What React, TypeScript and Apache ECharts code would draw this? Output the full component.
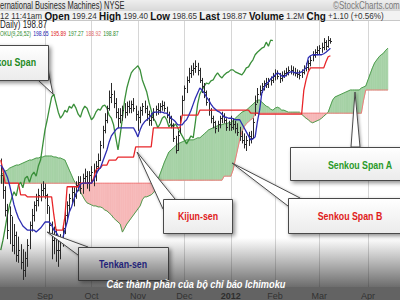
import React, { useEffect, useRef } from "react";
import * as echarts from "echarts";

// ---------- calendar (trading days shown on the category axis) ----------
const startDate = "2011-08-04";
const endDate = "2012-04-23";
const holidays = ["2011-09-05", "2011-11-24", "2011-12-26", "2012-01-02", "2012-01-16", "2012-02-20", "2012-04-06"];
const monthNames = ["Jan", "Feb", "Mar", "Apr", "May", "Jun", "Jul", "Aug", "Sep", "Oct", "Nov", "Dec"];

function tradingDays(): string[] {
  const out: string[] = [];
  const d = new Date(startDate + "T00:00:00Z");
  const end = new Date(endDate + "T00:00:00Z");
  while (d <= end) {
    const wd = d.getUTCDay();
    const s = d.toISOString().slice(0, 10);
    if (wd !== 0 && wd !== 6 && holidays.indexOf(s) < 0) out.push(s);
    d.setUTCDate(d.getUTCDate() + 1);
  }
  return out;
}

// ---------- price bars (IBM daily) ----------
const high = [
  175.5, 172.8, 170.0, 166.5, 166.0, 164.0, 162.5, 161.0, 160.0, 158.5,
  157.5, 157.0, 159.5, 163.0, 165.5, 167.0, 168.5, 169.5, 170.5, 171.0,
  170.5, 168.5, 166.0, 163.0, 162.0, 161.5, 160.0, 160.5, 162.5, 165.0,
  167.0, 168.5, 170.0, 169.8, 171.0, 172.0, 172.0, 172.5, 173.5, 173.0,
  173.0, 174.0, 174.5, 175.0, 176.5, 179.0, 182.0, 184.5, 186.0, 189.0,
  190.5, 189.0, 187.5, 185.5, 185.5, 186.0, 186.5, 186.8, 187.0, 187.0,
  187.5, 186.0, 185.0, 185.8, 186.5, 187.0, 186.0, 185.0, 184.5, 185.5,
  186.0, 186.5, 186.5, 187.0, 186.8, 185.8, 184.8, 184.0, 182.5, 180.0,
  181.0, 184.0, 188.0, 190.0, 191.8, 193.5, 194.0, 194.5, 195.0, 194.5,
  193.5, 191.5, 190.5, 189.0, 187.5, 185.5, 184.0, 183.0, 183.0, 184.0,
  184.8, 184.5, 183.5, 183.0, 184.0, 183.5, 183.0, 182.5, 181.8, 181.0,
  180.5, 180.0, 180.8, 181.0, 183.5, 188.0, 189.5, 190.0, 190.5, 191.0,
  191.5, 191.5, 191.8, 192.5, 193.2, 193.0, 192.5, 192.8, 193.0, 193.5,
  193.8, 194.0, 193.8, 193.5, 193.2, 193.0, 193.2, 194.0, 194.5, 195.0,
  195.8, 196.8, 197.2, 197.8, 198.0, 198.5, 199.4, 199.0, 199.8, 199.4,
];
const low = [
  170.5, 167.5, 164.0, 159.5, 158.5, 157.0, 156.5, 155.0, 154.8, 153.5,
  151.4, 152.0, 154.0, 157.5, 161.0, 163.0, 165.0, 166.0, 167.0, 168.0,
  167.5, 164.5, 160.5, 155.5, 156.5, 155.0, 154.0, 155.5, 158.0, 160.5,
  163.0, 165.0, 166.5, 166.0, 167.5, 169.0, 168.5, 168.5, 170.5, 169.5,
  169.0, 170.5, 170.0, 171.0, 173.0, 175.0, 177.5, 180.5, 182.5, 185.0,
  186.5, 185.5, 183.5, 181.5, 182.5, 183.0, 183.5, 184.0, 184.5, 184.5,
  184.8, 183.0, 181.0, 182.5, 184.0, 184.5, 183.0, 182.0, 182.0, 183.0,
  184.0, 184.2, 184.5, 185.0, 184.8, 183.5, 182.5, 181.5, 178.8, 176.5,
  177.0, 180.5, 184.0, 187.0, 188.5, 190.5, 191.5, 192.0, 192.5, 192.0,
  190.5, 188.5, 187.5, 186.0, 184.0, 182.5, 181.5, 180.5, 180.8, 181.5,
  182.5, 182.5, 181.0, 181.0, 181.0, 181.2, 180.5, 180.0, 179.0, 178.5,
  177.5, 177.0, 178.0, 178.5, 179.5, 184.0, 186.5, 188.0, 188.5, 189.0,
  189.5, 189.5, 190.0, 190.5, 191.0, 191.2, 190.5, 190.8, 191.5, 191.8,
  192.0, 192.2, 192.0, 191.8, 191.5, 191.2, 191.5, 192.2, 192.8, 193.0,
  193.8, 194.8, 195.5, 196.0, 196.2, 196.5, 197.0, 197.0, 197.5, 198.3,
];
const close = [
  172.2, 169.3, 165.3, 161.3, 164.3, 158.3, 160.3, 156.4, 157.3, 155.0,
  153.4, 155.8, 158.3, 162.3, 164.3, 166.3, 167.3, 168.3, 169.3, 169.7,
  168.3, 166.3, 162.3, 159.3, 160.3, 157.3, 157.3, 159.3, 161.7, 164.3,
  166.3, 167.7, 168.9, 168.1, 170.2, 170.8, 169.7, 171.6, 172.0, 170.8,
  172.2, 172.8, 172.0, 174.0, 175.2, 178.2, 181.2, 183.2, 185.5, 187.7,
  188.3, 186.5, 184.7, 183.5, 184.1, 185.1, 184.7, 185.9, 185.5, 186.3,
  185.5, 184.3, 183.7, 185.1, 185.9, 185.5, 184.3, 183.2, 183.7, 184.7,
  185.3, 185.1, 185.9, 186.1, 185.5, 184.1, 183.5, 182.2, 179.6, 177.2,
  180.2, 183.5, 187.1, 189.5, 191.1, 192.5, 193.1, 193.5, 193.9, 193.1,
  191.1, 189.9, 188.7, 186.7, 185.1, 183.5, 182.8, 181.6, 182.4, 183.5,
  183.9, 183.2, 181.8, 182.4, 181.8, 182.4, 181.6, 180.8, 180.0, 179.2,
  178.4, 179.2, 180.0, 179.6, 182.8, 186.3, 188.3, 189.1, 189.9, 190.5,
  190.3, 190.9, 191.1, 191.9, 192.5, 191.9, 191.5, 192.1, 192.5, 192.7,
  193.1, 193.1, 192.7, 192.5, 192.3, 192.1, 192.7, 193.5, 193.7, 194.5,
  195.1, 196.1, 196.6, 197.0, 197.4, 197.6, 198.6, 197.8, 199.0, 198.9,
];

// ---------- Ichimoku lines ----------
const tenkan = [
  174.2, 173.6, 172.8, 171.8, 170.2, 168.3, 166.3, 164.9, 163.7, 162.9,
  162.1, 161.7, 161.3, 161.3, 161.3, 161.3, 160.9, 161.3, 161.7, 162.3,
  162.9, 162.9, 162.9, 162.3, 161.3, 160.9, 160.1, 159.7, 159.7, 161.3,
  162.9, 164.9, 165.9, 167.3, 168.5, 169.3, 170.4, 170.6, 170.6, 170.6,
  170.6, 170.6, 171.2, 172.2, 173.2, 173.6, 174.8, 176.0, 177.2, 178.8,
  180.0, 180.6, 181.2, 181.6, 181.6, 181.6, 181.6, 181.6, 181.6, 181.6,
  181.6, 180.8, 179.8, 181.2, 182.2, 182.8, 183.2, 183.5, 184.1, 184.7,
  184.7, 184.7, 184.7, 184.7, 184.5, 184.5, 184.1, 183.5, 183.2, 182.8,
  182.2, 182.2, 182.2, 182.8, 183.2, 184.1, 185.1, 186.3, 187.5, 188.5,
  189.5, 189.1, 188.5, 187.7, 187.1, 186.3, 185.7, 185.3, 184.9, 184.7,
  184.3, 183.7, 183.7, 183.5, 183.5, 183.4, 183.2, 183.2, 183.2, 182.4,
  181.6, 180.8, 180.0, 179.2, 179.4, 179.8, 182.8, 185.1, 188.5, 189.5,
  190.3, 190.7, 191.3, 191.7, 192.1, 192.5, 192.3, 191.9, 191.7, 192.1,
  192.5, 192.7, 192.7, 192.5, 192.5, 192.5, 192.7, 193.1, 193.5, 195.5,
  195.9, 196.1, 196.1, 196.1, 196.1, 196.1, 196.3, 196.6, 197.0, 197.4,
];
const kijun = [
  175.2, 173.2, 170.6, 170.6, 170.6, 170.6, 170.6, 170.6, 170.6, 168.3,
  168.3, 168.3, 167.9, 167.9, 167.9, 167.9, 167.9, 167.9, 167.9, 167.9,
  167.9, 167.9, 167.9, 167.9, 164.3, 161.3, 161.3, 161.3, 161.3, 163.9,
  169.9, 169.9, 169.9, 169.9, 169.9, 169.9, 170.6, 170.6, 170.6, 170.6,
  170.6, 170.6, 171.6, 173.2, 173.6, 173.6, 174.2, 174.2, 174.2, 175.2,
  175.2, 175.2, 175.2, 175.8, 175.8, 175.8, 175.8, 175.8, 175.8, 175.8,
  175.8, 177.8, 177.8, 177.8, 177.8, 177.8, 177.8, 177.8, 177.8, 181.6,
  181.6, 181.6, 181.6, 181.6, 181.6, 181.6, 181.6, 181.6, 181.6, 181.6,
  181.6, 181.6, 184.1, 184.1, 184.1, 184.1, 184.1, 184.1, 184.1, 184.1,
  185.1, 185.1, 185.1, 185.1, 185.1, 185.1, 185.1, 185.1, 185.1, 185.1,
  185.1, 185.1, 185.1, 185.1, 185.1, 185.1, 185.1, 185.1, 185.1, 185.1,
  185.1, 185.1, 185.1, 184.5, 184.5, 184.5, 184.5, 184.3, 184.3, 184.3,
  184.3, 184.3, 184.3, 184.3, 184.3, 184.3, 184.3, 184.3, 184.3, 184.3,
  184.3, 184.3, 184.3, 184.3, 184.3, 184.3, 184.3, 189.1, 191.1, 192.7,
  193.5, 193.5, 193.5, 193.5, 193.5, 193.5, 193.5, 194.7, 195.7, 195.9,
];
const spanA = [
  172.2, 172.6, 173.0, 173.2, 173.6, 173.8, 174.0, 174.2, 174.2, 174.4,
  174.6, 174.8, 175.0, 175.2, 175.2, 175.4, 175.6, 175.6, 175.8, 175.8,
  176.0, 176.0, 176.0, 176.0, 175.8, 175.8, 175.6, 175.6, 175.4, 175.2,
  174.2, 173.2, 172.2, 171.2, 170.4, 169.7, 168.9, 168.1, 167.3, 166.7,
  166.5, 166.3, 166.1, 166.1, 165.9, 165.9, 165.7, 165.3, 165.1, 164.7,
  164.3, 163.7, 163.3, 162.9, 162.5, 160.9, 161.7, 162.5, 163.1, 163.7,
  164.3, 164.9, 165.5, 166.1, 167.3, 167.9, 167.9, 168.1, 168.3, 168.7,
  169.3, 171.2, 172.4, 173.6, 174.8, 175.8, 176.8, 177.2, 177.6, 178.0,
  178.4, 178.6, 178.8, 179.0, 179.2, 179.2, 179.2, 179.2, 179.4, 179.6,
  179.6, 180.0, 180.4, 180.8, 181.2, 181.4, 181.6, 181.8, 182.0, 182.2,
  182.2, 182.4, 182.4, 182.6, 182.6, 183.0, 183.5, 183.9, 184.3, 184.7,
  184.9, 185.1, 185.5, 185.9, 186.3, 186.7, 187.1, 187.1, 186.7, 186.3,
  185.9, 185.7, 185.3, 185.1, 185.5, 185.7, 185.5, 185.1, 185.1, 184.9,
  184.7, 184.7, 184.7, 184.7, 184.7, 184.7, 184.3, 183.9, 183.5, 183.2,
  182.8, 182.6, 182.8, 183.0, 183.2, 183.5, 183.9, 184.3, 184.7, 185.9,
  187.1, 187.7, 187.9, 188.1, 188.3, 188.5, 188.7, 188.9, 189.1, 189.1,
  189.1, 189.1, 189.1, 189.5, 189.7, 189.9, 191.1, 192.3, 193.5, 194.5,
  195.1, 195.7, 196.1, 196.4, 197.0, 197.4,
];
const spanB = [
  170.6, 170.6, 170.6, 170.6, 170.6, 170.6, 170.6, 170.6, 170.6, 170.6,
  170.6, 170.6, 170.6, 170.6, 170.6, 170.6, 170.6, 170.6, 170.6, 170.6,
  170.6, 170.6, 170.6, 170.6, 170.6, 170.6, 170.6, 170.6, 170.6, 170.6,
  170.6, 170.6, 170.6, 170.6, 170.6, 170.6, 170.6, 170.6, 170.6, 170.6,
  170.6, 170.6, 170.6, 170.6, 170.6, 170.6, 170.6, 170.6, 170.6, 170.6,
  170.6, 170.6, 170.6, 170.6, 170.6, 170.6, 170.6, 170.6, 170.6, 170.6,
  170.6, 170.6, 170.6, 170.6, 170.6, 170.6, 170.6, 170.6, 170.6, 170.6,
  170.6, 171.2, 171.2, 171.2, 171.2, 171.2, 171.2, 171.2, 171.2, 171.2,
  171.2, 171.2, 171.2, 171.2, 171.2, 171.2, 171.2, 171.2, 171.2, 171.2,
  171.2, 171.2, 171.2, 171.2, 171.2, 171.2, 171.2, 171.2, 171.2, 171.2,
  171.2, 172.0, 172.0, 172.0, 172.0, 173.2, 175.2, 177.2, 179.2, 180.8,
  181.8, 182.4, 182.8, 183.2, 183.5, 184.5, 184.5, 184.5, 184.5, 184.5,
  184.5, 184.5, 184.5, 184.5, 184.5, 184.5, 184.5, 184.5, 184.5, 184.5,
  184.5, 184.5, 184.5, 184.5, 184.5, 184.5, 184.5, 184.5, 184.5, 184.5,
  184.5, 184.5, 184.5, 184.5, 184.5, 184.5, 184.5, 184.5, 184.5, 184.5,
  184.5, 184.5, 184.5, 184.5, 184.5, 184.5, 184.5, 184.5, 184.5, 184.5,
  184.5, 184.5, 184.5, 184.5, 187.1, 189.1, 189.1, 189.1, 189.1, 189.1,
  189.1, 189.1, 189.1, 189.1, 189.1, 189.1,
];
const chikouShift = 26;

// ---------- texts ----------
const headerLine1 = "ernational Business Machines) NYSE";
const headerSite = "©StockCharts.com";
const headerLine2 =
  "{r|12 11:41am }{b|Open}{r| 199.24 }{b|High}{r| 199.40 }{b|Low}{r| 198.65 }{b|Last}{r| 198.87 }{b|Volume}{r| 1.2M }{b|Chg}{r| +1.10 (+0.56%)}";
const headerLine3 = "Daily) 198.87";
const headerLine4 = "{g|OKU(9,26,52)} {b|198.65} {r|195.89} {g|197.27} {p|188.92} {g|198.87}";
const caption = "Các thành phần của bộ chỉ báo Ichimoku";

const GREEN_FILL = "#a6d2a6";
const PINK_FILL = "#f6b8b8";

type Callout = {
  label: string;
  color: string;
  box: number[];
  tail: number[][];
  tx: number;
  ty: number;
  align: string;
};
const callouts: Callout[] = [
  { label: "Chikou Span", color: "#1f8a1f", box: [-70, 45, 118, 35], tail: [[38, 80], [53, 94], [48, 70]], tx: 36, ty: 62, align: "right" },
  { label: "Kijun-sen", color: "#e01b1b", box: [163, 199, 69, 34], tail: [[163, 209], [137, 152], [175, 199]], tx: 198, ty: 216, align: "center" },
  { label: "Tenkan-sen", color: "#1c1ca8", box: [78, 247, 90, 33], tail: [[78, 255], [47, 232], [88, 247]], tx: 123, ty: 264, align: "center" },
  { label: "Senkou Span A", color: "#2a9a2a", box: [290, 147, 130, 33], tail: [[351, 147], [355, 92], [360, 147]], tx: 360, ty: 165, align: "center" },
  { label: "Senkou Span B", color: "#e01b1b", box: [288, 198, 130, 35], tail: [[288, 206], [232, 163], [300, 198]], tx: 350, ty: 216, align: "center" },
];

function buildOption() {
  const dates = tradingDays();
  const monthStart: boolean[] = dates.map((d, i) => i > 0 && d.slice(5, 7) !== dates[i - 1].slice(5, 7));
  const showIdx = (idx: number) => !!monthStart[idx];

  const barData = close.map((c, i) => [i, high[i], low[i], c]);
  const cloudData = spanA.map((a, i) => [i, a, spanB[i]]);
  const chikou = close.slice(chikouShift);

  const font = "Liberation Sans, Arial, sans-serif";

  const graphic: any[] = [];
  // callouts
  callouts.forEach((c) => {
    graphic.push({
      type: "polygon",
      z: 50,
      silent: true,
      shape: { points: c.tail },
      style: { fill: "#ffffff", stroke: "#4a4a4a", lineWidth: 1, shadowBlur: 3, shadowColor: "rgba(0,0,0,0.35)", shadowOffsetX: 1, shadowOffsetY: 1 },
    });
    graphic.push({
      type: "rect",
      z: 51,
      silent: true,
      shape: { x: c.box[0] + 0.5, y: c.box[1] + 0.5, width: c.box[2], height: c.box[3] },
      style: {
        fill: new echarts.graphic.LinearGradient(0, 0, 0, 1, [
          { offset: 0, color: "#ffffff" },
          { offset: 1, color: "#ebebeb" },
        ]),
        stroke: "#4a4a4a",
        lineWidth: 1,
        shadowBlur: 4,
        shadowColor: "rgba(0,0,0,0.45)",
        shadowOffsetX: 2,
        shadowOffsetY: 2,
      },
    });
    graphic.push({
      type: "text",
      z: 52,
      silent: true,
      x: c.tx,
      y: c.ty,
      scaleX: 0.8,
      style: {
        text: c.label,
        fill: c.color,
        fontSize: 11,
        fontWeight: "bold",
        fontFamily: font,
        align: c.align,
        textAlign: c.align,
        verticalAlign: "middle",
        textVerticalAlign: "middle",
      },
    });
  });

  // bottom dark gradient + axis band
  graphic.push({
    type: "rect",
    z: 100,
    silent: true,
    shape: { x: 0, y: 238, width: 400, height: 49 },
    style: {
      fill: new echarts.graphic.LinearGradient(0, 0, 0, 1, [
        { offset: 0, color: "rgba(40,40,40,0)" },
        { offset: 1, color: "rgba(40,40,40,0.68)" },
      ]),
    },
  });
  graphic.push({
    type: "rect",
    z: 100,
    silent: true,
    shape: { x: 0, y: 287, width: 400, height: 13 },
    style: { fill: "rgba(45,45,45,0.74)" },
  });
  graphic.push({
    type: "text",
    z: 101,
    silent: true,
    x: 196,
    y: 284,
    scaleX: 0.8,
    style: {
      text: caption,
      fill: "#ffffff",
      fontSize: 11.5,
      fontWeight: "bold",
      fontStyle: "italic",
      fontFamily: font,
      align: "center",
      textAlign: "center",
      verticalAlign: "middle",
      textVerticalAlign: "middle",
      shadowBlur: 2,
      shadowColor: "rgba(0,0,0,0.6)",
    },
  });

  // header
  graphic.push({
    type: "rect",
    z: 60,
    silent: true,
    shape: { x: 0, y: 0, width: 400, height: 11 },
    style: {
      fill: new echarts.graphic.LinearGradient(0, 0, 0, 1, [
        { offset: 0, color: "#eeeeee" },
        { offset: 1, color: "#d8d8d8" },
      ]),
    },
  });
  graphic.push({
    type: "rect",
    z: 60,
    silent: true,
    shape: { x: 0, y: 11, width: 400, height: 9 },
    style: { fill: "#f2f2f2" },
  });
  graphic.push({
    type: "line",
    z: 60,
    silent: true,
    shape: { x1: 0, y1: 20.5, x2: 400, y2: 20.5 },
    style: { stroke: "#c8c8c8", lineWidth: 1 },
  });
  const headerText = (x: number, y: number, text: string, extra: any, sx: number) => ({
    type: "text",
    z: 61,
    silent: true,
    x,
    y,
    scaleX: sx,
    style: Object.assign(
      { text, fontFamily: font, align: "left", textAlign: "left", verticalAlign: "middle", textVerticalAlign: "middle" },
      extra
    ),
  });
  graphic.push(headerText(0, 6, headerLine1, { fontSize: 10, fill: "#2a2a2a" }, 0.75));
  graphic.push(headerText(333, 6, headerSite, { fontSize: 10, fill: "#7a7a7a" }, 0.8));
  graphic.push(
    headerText(0, 16, headerLine2, {
      rich: {
        r: { fontSize: 9, fontFamily: font, fill: "#333333" },
        b: { fontSize: 11, fontWeight: "bold", fontFamily: font, fill: "#111111" },
      },
    }, 0.9)
  );
  graphic.push(headerText(0, 25, headerLine3, { fontSize: 10, fill: "#222222" }, 0.8));
  graphic.push(
    headerText(0, 33, headerLine4, {
      rich: {
        g: { fontSize: 8, fontFamily: font, fill: "#2e8b2e" },
        b: { fontSize: 8, fontFamily: font, fill: "#2323b0" },
        r: { fontSize: 8, fontFamily: font, fill: "#dd2222" },
        p: { fontSize: 8, fontFamily: font, fill: "#e06a6a" },
      },
    }, 0.63)
  );

  return {
    animation: false,
    backgroundColor: "#ffffff",
    textStyle: { fontFamily: font },
    grid: { left: 0.75, right: 1.03, top: 20, bottom: 13, containLabel: false },
    xAxis: {
      type: "category",
      data: dates,
      boundaryGap: false,
      axisLine: { show: false },
      axisTick: { show: false },
      axisLabel: {
        interval: (idx: number) => showIdx(idx),
        margin: 4,
        color: "#444444",
        fontSize: 9,
        fontFamily: font,
        formatter: (v: string) => {
          const m = parseInt(v.slice(5, 7), 10);
          return m === 1 ? "{y|" + v.slice(0, 4) + "}" : monthNames[m - 1];
        },
        rich: { y: { fontWeight: "bold", fontSize: 9, color: "#333333" } },
      },
      splitLine: { show: true, interval: (idx: number) => showIdx(idx), lineStyle: { color: "#d6d6d6", width: 1 } },
    },
    yAxis: {
      type: "value",
      min: 150,
      max: 203,
      position: "right",
      axisLine: { show: false },
      axisTick: { show: false },
      axisLabel: { show: false },
      splitLine: { show: false },
    },
    series: [
      {
        type: "custom",
        name: "Kumo",
        silent: true,
        z: 1,
        data: cloudData,
        encode: { x: 0, y: [1, 2] },
        renderItem: (params: any, api: any) => {
          const i = api.value(0) as number;
          if (i >= spanA.length - 1) return null;
          const a0 = spanA[i], b0 = spanB[i], a1 = spanA[i + 1], b1 = spanB[i + 1];
          const pa0 = api.coord([i, a0]);
          const pb0 = api.coord([i, b0]);
          const pa1 = api.coord([i + 1, a1]);
          const pb1 = api.coord([i + 1, b1]);
          const d0 = a0 - b0;
          const d1 = a1 - b1;
          const col = (d: number) => (d >= 0 ? GREEN_FILL : PINK_FILL);
          const poly = (pts: number[][], c: string) => ({
            type: "polygon",
            shape: { points: pts },
            style: { fill: c, stroke: c, lineWidth: 0.6 },
          });
          if (d0 * d1 >= 0) {
            return poly([pa0, pa1, pb1, pb0], col(d0 !== 0 ? d0 : d1));
          }
          const t = d0 / (d0 - d1);
          const px = [pa0[0] + (pa1[0] - pa0[0]) * t, pa0[1] + (pa1[1] - pa0[1]) * t];
          return { type: "group", children: [poly([pa0, px, pb0], col(d0)), poly([px, pa1, pb1], col(d1))] };
        },
      },
      {
        type: "line",
        name: "Senkou Span A",
        data: spanA,
        symbol: "none",
        silent: true,
        z: 2,
        lineStyle: { color: "#4f9d4f", width: 1 },
      },
      {
        type: "line",
        name: "Senkou Span B",
        data: spanB,
        symbol: "none",
        silent: true,
        z: 2,
        lineStyle: { color: "#f07c7c", width: 1 },
      },
      {
        type: "line",
        name: "Chikou Span",
        data: chikou,
        symbol: "none",
        silent: true,
        z: 3,
        lineStyle: { color: "#3a8f3a", width: 1.3 },
      },
      {
        type: "custom",
        name: "IBM",
        silent: true,
        z: 4,
        data: barData,
        encode: { x: 0, y: [1, 2, 3] },
        renderItem: (params: any, api: any) => {
          const i = api.value(0) as number;
          const hi = api.coord([i, api.value(1)]);
          const lo = api.coord([i, api.value(2)]);
          const cl = api.coord([i, api.value(3)]);
          const x = Math.round(hi[0]) + 0.5;
          const cy = Math.round(cl[1]) + 0.5;
          return {
            type: "group",
            children: [
              { type: "line", shape: { x1: x, y1: hi[1], x2: x, y2: lo[1] }, style: { stroke: "#2a2a2a", lineWidth: 1 } },
              { type: "line", shape: { x1: x, y1: cy, x2: x + 1.5, y2: cy }, style: { stroke: "#2a2a2a", lineWidth: 1 } },
            ],
          };
        },
      },
      {
        type: "line",
        name: "Kijun-sen",
        data: kijun,
        symbol: "none",
        silent: true,
        z: 5,
        lineStyle: { color: "#e8262a", width: 1.3 },
      },
      {
        type: "line",
        name: "Tenkan-sen",
        data: tenkan,
        symbol: "none",
        silent: true,
        z: 6,
        lineStyle: { color: "#2d2db2", width: 1.3 },
      },
    ],
    graphic,
  };
}

export default function App() {
  const ref = useRef<HTMLDivElement | null>(null);
  useEffect(() => {
    if (!ref.current) return;
    const chart = echarts.init(ref.current, undefined, { renderer: "svg" });
    chart.setOption(buildOption() as any);
    return () => chart.dispose();
  }, []);
  return (
    <div
      ref={ref}
      style={{ position: "fixed", left: 0, top: 0, width: 400, height: 300, background: "#ffffff" }}
    />
  );
}
